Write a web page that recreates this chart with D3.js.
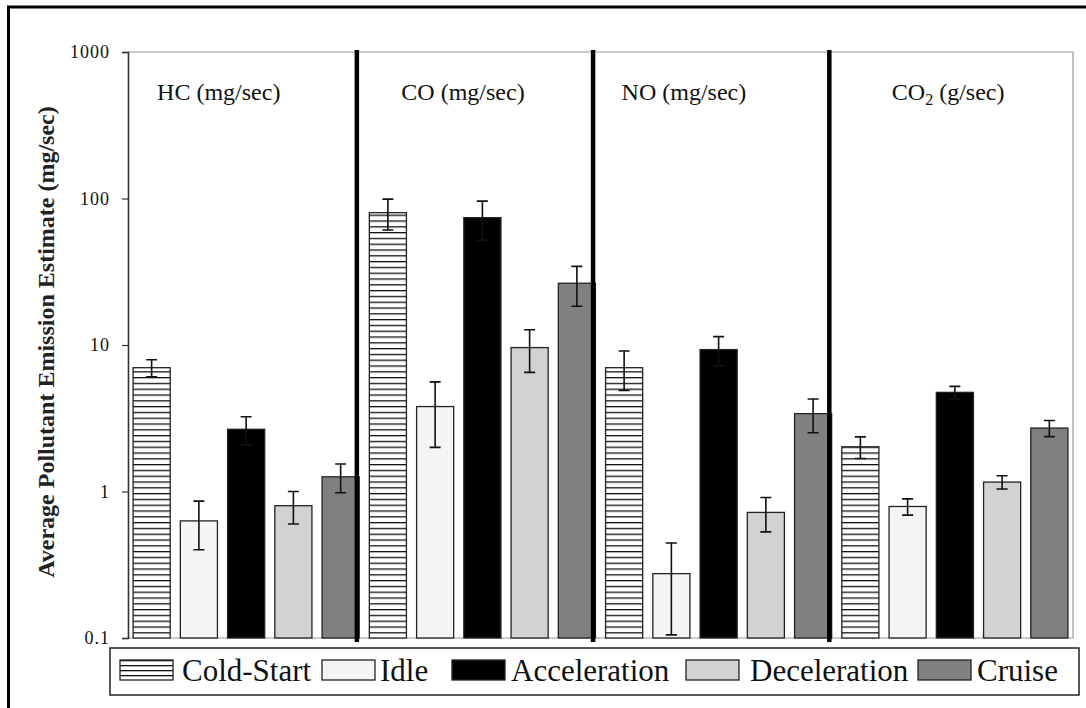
<!DOCTYPE html>
<html>
<head>
<meta charset="utf-8">
<script src="https://cdn.jsdelivr.net/npm/d3@7"></script>
<style>
  html, body { margin: 0; padding: 0; background: #fff; }
  svg { display: block; }
</style>
</head>
<body>
<svg id="chart" width="1086" height="708"></svg>
<script>
// Driving modes (series) and pollutants (groups)
const modes = ["Cold-Start", "Idle", "Acceleration", "Deceleration", "Cruise"];
const pollutants = ["HC", "CO", "NO", "CO2"];
const pollutantUnits = ["(mg/sec)", "(mg/sec)", "(mg/sec)", "(g/sec)"];

// Mean emission per mode, one array per pollutant (mode order as above)
const hcValues  = [7.0, 0.63, 2.66, 0.80, 1.26];
const coValues  = [80, 3.8, 74, 9.6, 26.4];
const noValues  = [7.0, 0.275, 9.3, 0.72, 3.4];
const co2Values = [2.02, 0.79, 4.75, 1.16, 2.71];

// Error bar half-widths
const hcErrors  = [0.93, 0.23, 0.58, 0.20, 0.28];
const coErrors  = [19, 1.8, 22, 3.1, 8.0];
const noErrors  = [2.1, 0.17, 2.1, 0.19, 0.88];
const co2Errors = [0.34, 0.10, 0.47, 0.12, 0.34];

const tickValues = [0.1, 1, 10, 100, 1000];
const tickLabels = ["0.1", "1", "10", "100", "1000"];

// Fill style of each mode
const modeFills = ["url(#stripes)", "#f4f4f4", "#000000", "#d2d2d2", "#808080"];

const valueSets = [hcValues, coValues, noValues, co2Values];
const errorSets = [hcErrors, coErrors, noErrors, co2Errors];

const rows = [];
pollutants.forEach((p, gi) => {
  modes.forEach((m, mi) => {
    rows.push({ key: p + "|" + m, pollutant: p, group: gi, mode: mi,
                value: valueSets[gi][mi], err: errorSets[gi][mi] });
  });
});

const svg = d3.select("#chart");
const plot = { left: 128, right: 1073, top: 52, bottom: 638 };

// Horizontal stripe pattern for the cold-start bars
const defs = svg.append("defs");
const pat = defs.append("pattern")
  .attr("id", "stripes")
  .attr("patternUnits", "userSpaceOnUse")
  .attr("width", 8).attr("height", 5.8)
  .attr("y", plot.bottom);
pat.append("rect").attr("width", 8).attr("height", 5.8).attr("fill", "#fff");
pat.append("rect").attr("y", 0).attr("width", 8).attr("height", 1.3).attr("fill", "#111");

// Outer frame (left and top edges)
svg.append("line").attr("x1", 8.5).attr("x2", 8.5).attr("y1", 6).attr("y2", 708)
  .attr("stroke", "#000").attr("stroke-width", 3);
svg.append("line").attr("x1", 7).attr("x2", 1086).attr("y1", 7).attr("y2", 7)
  .attr("stroke", "#000").attr("stroke-width", 3);

const x = d3.scaleBand()
  .domain(rows.map(d => d.key))
  .range([plot.left, plot.right])
  .paddingInner(0.215)
  .paddingOuter(0.108);

const y = d3.scaleLog()
  .domain([0.1, 1000])
  .range([plot.bottom, plot.top]);

// Plot area border
svg.append("path")
  .attr("d", `M${plot.left},${plot.top}H${plot.right}V${plot.bottom}H${plot.left}`)
  .attr("fill", "none").attr("stroke", "#9a9a9a").attr("stroke-width", 1.2);

// Bars
svg.append("g").selectAll("rect")
  .data(rows)
  .join("rect")
  .attr("x", d => x(d.key))
  .attr("width", x.bandwidth())
  .attr("y", d => y(d.value))
  .attr("height", d => y(0.1) - y(d.value))
  .attr("fill", d => modeFills[d.mode])
  .attr("stroke", "#222")
  .attr("stroke-width", 1.3);

// Error bars
const capHalf = 5.5;
const eb = svg.append("g").attr("stroke", "#111").attr("stroke-width", 1.6).attr("fill", "none");
eb.selectAll("path")
  .data(rows)
  .join("path")
  .attr("d", d => {
    const cx = x(d.key) + x.bandwidth() / 2;
    const hi = y(d.value + d.err);
    const lo = y(Math.max(d.value - d.err, 0.1));
    return `M${cx - capHalf},${hi}H${cx + capHalf}M${cx},${hi}V${lo}M${cx - capHalf},${lo}H${cx + capHalf}`;
  });

// Y axis
const yAxis = svg.append("g")
  .attr("transform", `translate(${plot.left},0)`)
  .call(d3.axisLeft(y).tickValues(tickValues)
    .tickFormat((d, i) => tickLabels[i]).tickSize(6).tickPadding(12));
yAxis.select(".domain").attr("stroke", "#333").attr("stroke-width", 1.6);
yAxis.selectAll(".tick line").attr("stroke", "#333").attr("stroke-width", 1.2);
yAxis.selectAll(".tick text")
  .attr("font-family", "'Liberation Serif', serif")
  .attr("font-size", 18)
  .attr("letter-spacing", 1)
  .attr("fill", "#111");

// Group separators
const sepG = svg.append("g");
pollutants.slice(1).forEach(p => {
  const sx = x(p + "|" + modes[0]) - 12.5;
  sepG.append("line")
    .attr("x1", sx).attr("x2", sx)
    .attr("y1", plot.top - 2).attr("y2", plot.bottom + 4)
    .attr("stroke", "#000").attr("stroke-width", 4.5);
});

// Group titles
const titleDx = [24, 32, 16, 50];
const titles = svg.append("g")
  .attr("font-family", "'Liberation Serif', serif")
  .attr("font-size", 24)
  .attr("fill", "#111");
pollutants.forEach((p, gi) => {
  const t = titles.append("text")
    .attr("x", x(p + "|" + modes[0]) + titleDx[gi])
    .attr("y", 100);
  if (p === "CO2") {
    t.append("tspan").text("CO");
    t.append("tspan").attr("font-size", 16).attr("dy", 5).text("2");
    t.append("tspan").attr("dy", -5).text(" " + pollutantUnits[gi]);
  } else {
    t.text(p + " " + pollutantUnits[gi]);
  }
});

// Y axis title
svg.append("text")
  .attr("transform", "translate(54,342) rotate(-90)")
  .attr("text-anchor", "middle")
  .attr("font-family", "'Liberation Serif', serif")
  .attr("font-weight", "bold")
  .attr("font-size", 24)
  .attr("fill", "#222")
  .text("Average Pollutant Emission Estimate (mg/sec)");

// Legend
const legend = svg.append("g");
legend.append("rect")
  .attr("x", 110).attr("y", 648).attr("width", 969).attr("height", 47)
  .attr("fill", "#fff").attr("stroke", "#222").attr("stroke-width", 1.5);
const legendX = [120, 322, 452, 686, 918];
const legendGap = [9, 5, 6, 11, 6];
const lpat = defs.append("pattern")
  .attr("id", "legendStripes")
  .attr("patternUnits", "userSpaceOnUse")
  .attr("width", 8).attr("height", 5)
  .attr("y", 660);
lpat.append("rect").attr("width", 8).attr("height", 5).attr("fill", "#fff");
lpat.append("rect").attr("y", 0).attr("width", 8).attr("height", 1.3).attr("fill", "#111");
modes.forEach((m, mi) => {
  legend.append("rect")
    .attr("x", legendX[mi]).attr("y", 660)
    .attr("width", 53).attr("height", 20)
    .attr("fill", mi === 0 ? "url(#legendStripes)" : modeFills[mi])
    .attr("stroke", "#222").attr("stroke-width", 1.3);
  legend.append("text")
    .attr("x", legendX[mi] + 53 + legendGap[mi]).attr("y", 681)
    .attr("font-family", "'Liberation Serif', serif")
    .attr("font-size", 31)
    .attr("fill", "#111")
    .text(m);
});
</script>
</body>
</html>
